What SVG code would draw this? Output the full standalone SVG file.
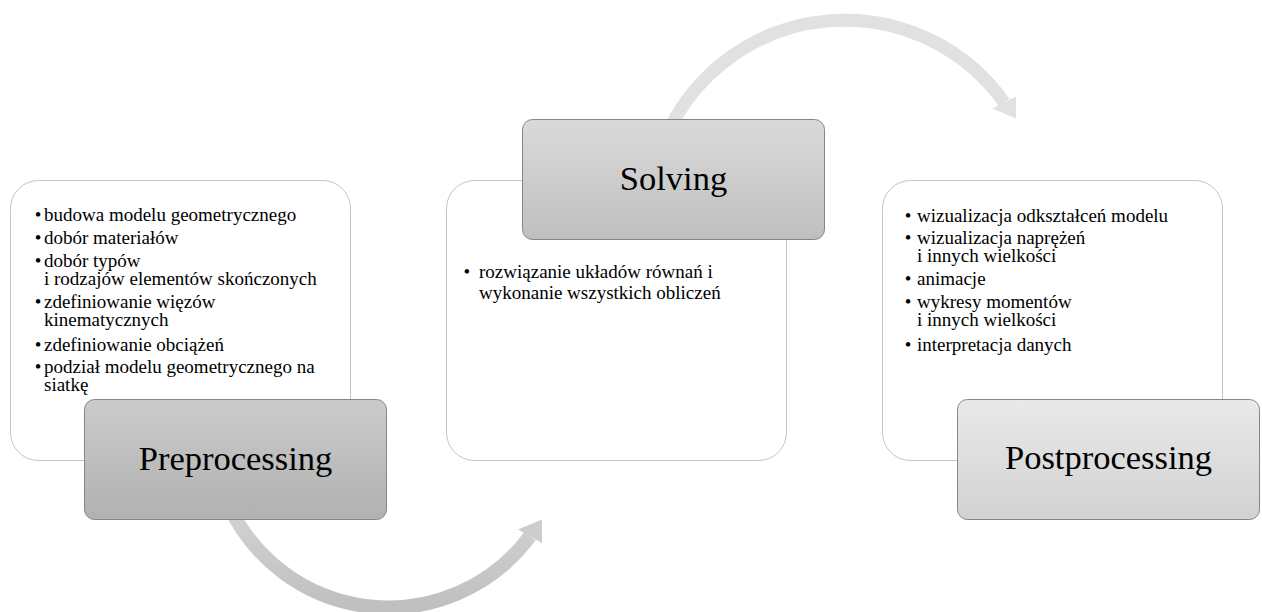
<svg xmlns="http://www.w3.org/2000/svg" width="1262" height="612" viewBox="0 0 1262 612">
<style>
  .panel { fill: #ffffff; stroke: #c4c4c4; stroke-width: 1; }
  .head { stroke: #858585; stroke-width: 1; }
  .t { font-family: "Liberation Serif", "Times New Roman", serif; font-size: 19px; fill: #000000; }
  .title { font-family: "Liberation Serif", "Times New Roman", serif; font-size: 34.5px; fill: #000000; text-anchor: middle; }
  .arc { fill: none; }
</style>
<defs>
  <linearGradient id="gPre" x1="0" y1="0" x2="0" y2="1">
    <stop offset="0" stop-color="#cbcbcb"/>
    <stop offset="1" stop-color="#b1b1b1"/>
  </linearGradient>
  <linearGradient id="gSol" x1="0" y1="0" x2="0" y2="1">
    <stop offset="0" stop-color="#dadada"/>
    <stop offset="1" stop-color="#bfbfbf"/>
  </linearGradient>
  <linearGradient id="gPost" x1="0" y1="0" x2="0" y2="1">
    <stop offset="0" stop-color="#e9e9e9"/>
    <stop offset="1" stop-color="#d2d2d2"/>
  </linearGradient>
  <linearGradient id="gArcB" gradientUnits="userSpaceOnUse" x1="0" y1="500" x2="0" y2="612">
    <stop offset="0" stop-color="#d4d4d4"/>
    <stop offset="1" stop-color="#bfbfbf"/>
  </linearGradient>
</defs>

<g id="connectors">
  <path class="arc" d="M226.5,500 A176,176 0 0,0 530,536.2" stroke="url(#gArcB)" stroke-width="14"/>
  <polygon points="542,519.5 542,543 518,529.5" fill="#cdcdcd"/>
  <path class="arc" d="M669,130 A195.6,195.6 0 0,1 1004.2,102.5" stroke="#e1e1e1" stroke-width="13"/>
  <polygon points="1016,118.5 1016,96.5 992.5,108.5" fill="#e1e1e1"/>
</g>

<g id="preprocessing">
  <rect class="panel" x="10.5" y="180.5" width="340" height="280" rx="28" ry="28"/>
  <text class="t">
    <tspan x="34.7" y="221">•</tspan><tspan x="44" y="221">budowa modelu geometrycznego</tspan>
    <tspan x="34.7" y="244">•</tspan><tspan x="44" y="244">dobór materiałów</tspan>
    <tspan x="34.7" y="267">•</tspan><tspan x="44" y="267">dobór typów</tspan>
    <tspan x="44" y="284.5">i rodzajów elementów skończonych</tspan>
    <tspan x="34.7" y="307.5">•</tspan><tspan x="44" y="307.5">zdefiniowanie więzów</tspan>
    <tspan x="44" y="325.5">kinematycznych</tspan>
    <tspan x="34.7" y="350.5">•</tspan><tspan x="44" y="350.5">zdefiniowanie obciążeń</tspan>
    <tspan x="34.7" y="372.5">•</tspan><tspan x="44" y="372.5">podział modelu geometrycznego na</tspan>
    <tspan x="44" y="390.5">siatkę</tspan>
  </text>
  <rect class="head" x="84.5" y="399.5" width="302" height="120" rx="10" ry="10" fill="url(#gPre)"/>
  <text class="title" x="235.5" y="470">Preprocessing</text>
</g>

<g id="solving">
  <rect class="panel" x="446.5" y="180.5" width="340" height="280" rx="28" ry="28"/>
  <text class="t">
    <tspan x="463.4" y="277.5">•</tspan><tspan x="479" y="277.5">rozwiązanie układów równań i</tspan>
    <tspan x="479" y="299">wykonanie wszystkich obliczeń</tspan>
  </text>
  <rect class="head" x="522.5" y="119.5" width="302" height="120" rx="10" ry="10" fill="url(#gSol)"/>
  <text class="title" x="673.5" y="190">Solving</text>
</g>

<g id="postprocessing">
  <rect class="panel" x="882.5" y="180.5" width="340" height="280" rx="28" ry="28"/>
  <text class="t">
    <tspan x="904.7" y="221.5">•</tspan><tspan x="917" y="221.5">wizualizacja odkształceń modelu</tspan>
    <tspan x="904.7" y="244">•</tspan><tspan x="917" y="244">wizualizacja naprężeń</tspan>
    <tspan x="917" y="261.5">i innych wielkości</tspan>
    <tspan x="904.7" y="285">•</tspan><tspan x="917" y="285">animacje</tspan>
    <tspan x="904.7" y="307.5">•</tspan><tspan x="917" y="307.5">wykresy momentów</tspan>
    <tspan x="917" y="326">i innych wielkości</tspan>
    <tspan x="904.7" y="351">•</tspan><tspan x="917" y="351">interpretacja danych</tspan>
  </text>
  <rect class="head" x="957.5" y="399.5" width="302" height="120" rx="10" ry="10" fill="url(#gPost)"/>
  <text class="title" x="1108.5" y="469">Postprocessing</text>
</g>
</svg>
